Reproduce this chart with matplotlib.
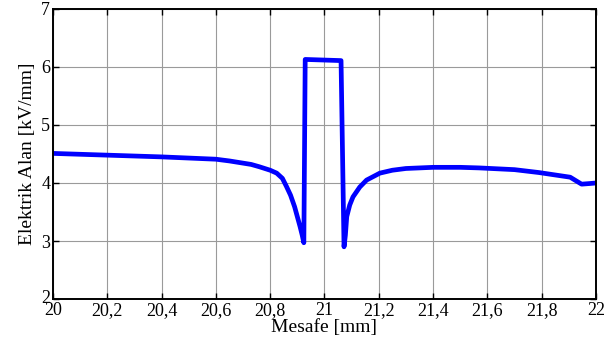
import matplotlib
matplotlib.use("Agg")
import matplotlib.pyplot as plt
import matplotlib.transforms as mtransforms
from matplotlib.ticker import FuncFormatter

x_mm = [20.0, 20.2, 20.4, 20.5, 20.6, 20.65, 20.69, 20.73, 20.76, 20.8, 20.824, 20.845, 20.86, 20.875, 20.89, 20.9, 20.91, 20.918, 20.924,
        20.929, 21.061, 21.072, 21.077, 21.082, 21.093, 21.105, 21.13, 21.155, 21.204, 21.25, 21.3, 21.4, 21.5, 21.57,
        21.7, 21.79, 21.905, 21.947, 21.975, 22.0]
e_field = [4.51, 4.48, 4.45, 4.43, 4.41, 4.38, 4.35, 4.32, 4.28, 4.22, 4.17, 4.08, 3.94, 3.79, 3.59, 3.42, 3.25, 3.1, 2.97,
           6.13, 6.11, 2.9, 3.1, 3.42, 3.62, 3.76, 3.93, 4.05, 4.17, 4.22, 4.25, 4.27, 4.27, 4.26,
           4.23, 4.18, 4.1, 3.98, 3.99, 4.0]

xticks = [20.0, 20.2, 20.4, 20.6, 20.8, 21.0, 21.2, 21.4, 21.6, 21.8, 22.0]
yticks = [2, 3, 4, 5, 6, 7]

plt.rcParams['font.family'] = ['Liberation Serif', 'DejaVu Serif']

fig = plt.figure(figsize=(6.16, 3.45), dpi=100)
ax = fig.add_axes([0.086, 0.1333, 0.8815, 0.8407])
ax.plot(x_mm, e_field, color='#0000ff', linewidth=3.4, solid_joinstyle='round')
ax.set_xlim(20, 22)
ax.set_ylim(2, 7)
ax.set_xticks(xticks)
ax.set_yticks(yticks)
ax.xaxis.set_major_formatter(FuncFormatter(lambda v, p: ('%g' % round(v, 1)).replace('.', ',')))
ax.grid(True, color='#9a9a9a', linewidth=0.8)
ax.set_axisbelow(True)
ax.tick_params(direction='in', top=True, right=True, labelsize=13, length=4, pad=2, width=1.0)
for s in ax.spines.values():
    s.set_linewidth(1.4)
ax.set_xlabel('Mesafe [mm]', fontsize=14, labelpad=0)
ax.set_ylabel('Elektrik Alan [kV/mm]', fontsize=14, labelpad=4)

# raise the lowest y tick label slightly, as in the reference
fig.canvas.draw()
lbl = ax.get_yticklabels()[0]
lbl.set_transform(lbl.get_transform() + mtransforms.ScaledTranslation(0, 3 / 100, fig.dpi_scale_trans))

fig.savefig('out.png', dpi=100)
